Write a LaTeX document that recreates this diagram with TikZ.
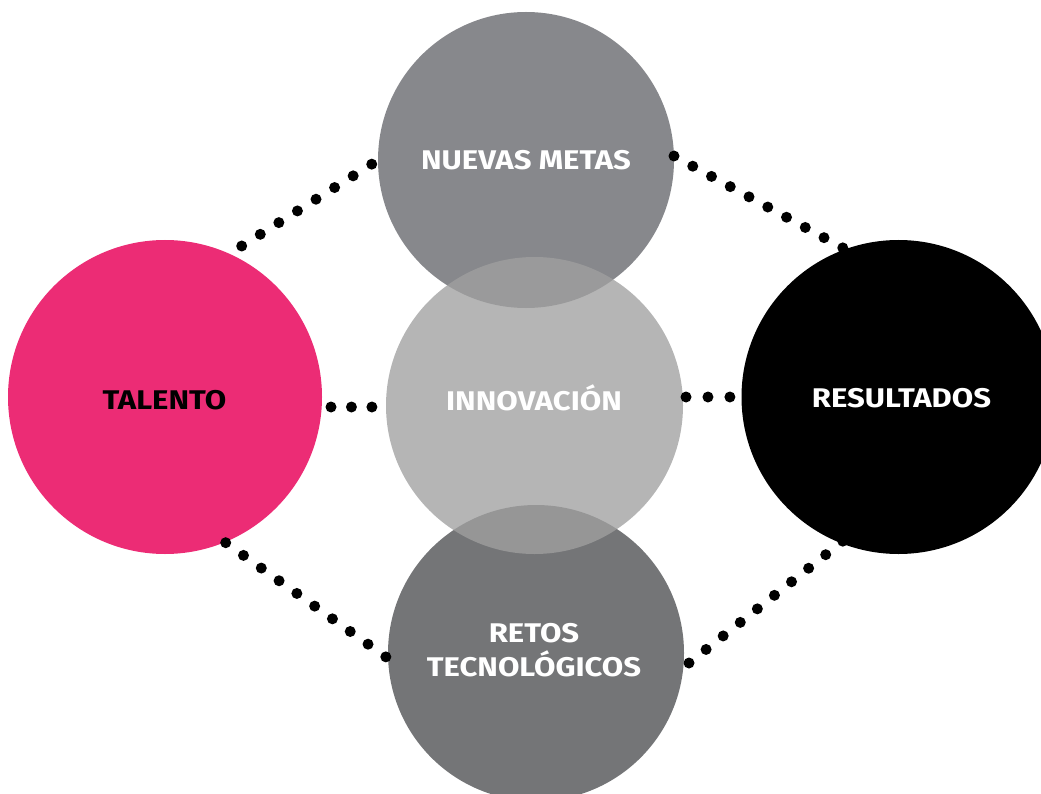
\documentclass[tikz,border=0pt]{standalone}
\usepackage{fontspec}
\setmainfont{Fira Sans}
\newfontfamily\labfont[FakeStretch=1.15]{Fira Sans}
\definecolor{pinkc}{HTML}{EC2C75}
\definecolor{metasc}{HTML}{87888C}
\definecolor{retosc}{HTML}{747577}
\definecolor{innovc}{HTML}{A0A0A0}
\begin{document}
\begin{tikzpicture}[x=1pt,y=-1pt,
  bubble/.style={circle,inner sep=0pt},
  lab/.style={inner sep=0pt,align=center,text height=18.6pt,text depth=0pt,font=\labfont\fontsize{27}{34}\selectfont\bfseries,text=white},
  dotline/.style={line width=11pt,line cap=round,dash pattern=on 0pt off #1}]
\clip (0,0) rectangle (1041,794);
\path[use as bounding box] (0,0) rectangle (1041,794);
\node[bubble,fill=pinkc,minimum size=314pt] (talento) at (165,397) {};
\node[bubble,fill=black,minimum size=314pt] (resultados) at (898.5,397) {};
\node[bubble,fill=metasc,minimum size=296pt] (metas) at (526,160) {};
\node[bubble,fill=retosc,minimum size=296pt] (retos) at (536,653) {};
\node[bubble,fill=innovc,fill opacity=0.775,minimum size=297pt] (innov) at (534.5,405.5) {};
\node[lab,text=black] (talento-t) at (164.5,400) {TALENTO};
\node[lab] (resultados-t) at (901.5,398) {RESULTADOS};
\node[lab] (metas-t) at (526,160) {NUEVAS METAS};
\node[lab] (innov-t) at (534,401) {INNOVACIÓN};
\node[lab] (retos-t) at (534,667) {RETOS\\TECNOLÓGICOS};
\coordinate (tm1) at (241.7,246);
\coordinate (tm2) at (372,164);
\coordinate (mr1) at (674,156);
\coordinate (mr2) at (843,248);
\coordinate (tr1) at (225.7,542.7);
\coordinate (tr2) at (386,657);
\coordinate (rr1) at (689,663);
\coordinate (rr2) at (843,541);
\coordinate (ti1) at (331,407);
\coordinate (ti2) at (372,407);
\coordinate (ir1) at (686,397);
\coordinate (ir2) at (730,397);
\draw[dotline=21.95pt] (tm1) -- (tm2);
\draw[dotline=21.35pt] (mr1) -- (mr2);
\draw[dotline=21.85pt] (tr1) -- (tr2);
\draw[dotline=21.8pt] (rr1) -- (rr2);
\draw[dotline=20.45pt] (ti1) -- (ti2);
\draw[dotline=21.95pt] (ir1) -- (ir2);
\end{tikzpicture}
\end{document}
